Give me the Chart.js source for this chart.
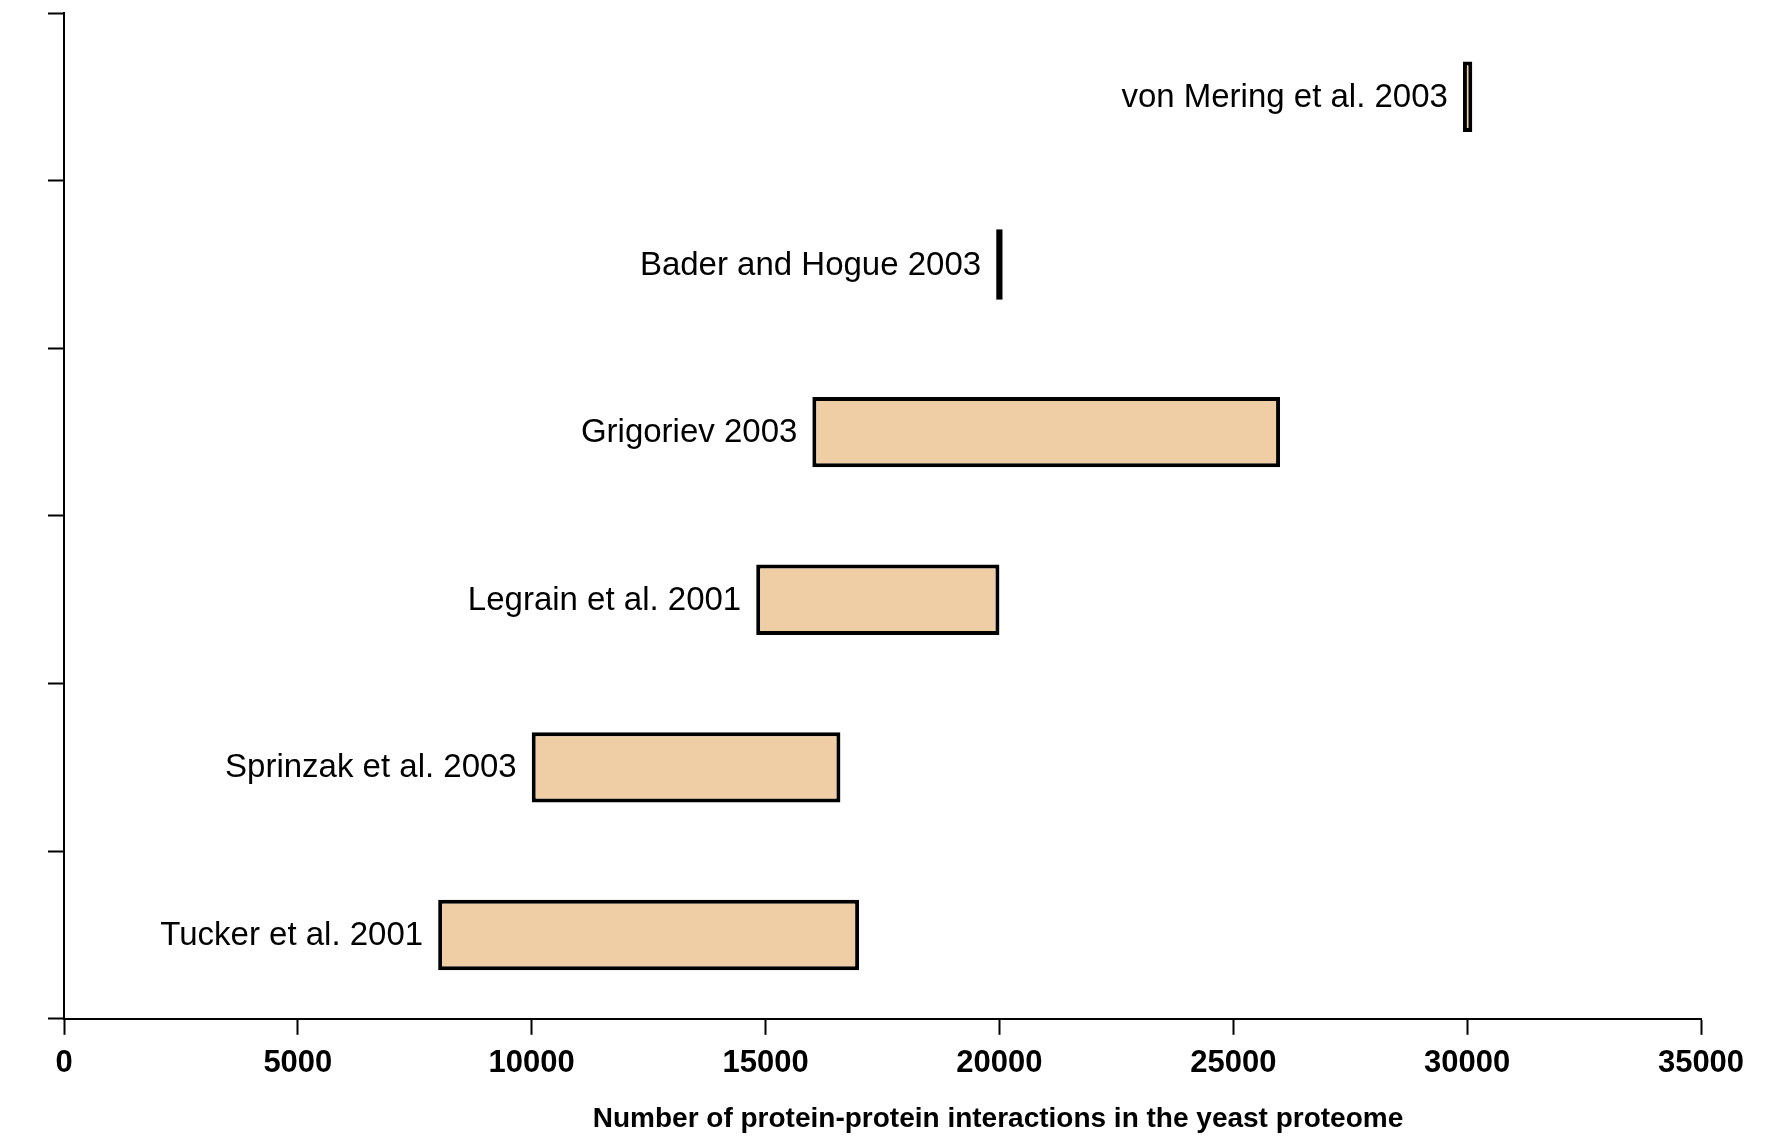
<!DOCTYPE html>
<html>
<head>
    <title>Yeast interactome estimates</title>
    <script src="https://cdn.jsdelivr.net/npm/chart.js"></script>
    <style>
        * { margin: 0; padding: 0; }
        body { background: #ffffff; }
        #chart { display: block; }
    </style>
</head>
<body>
    <canvas id="chart" width="1772" height="1146"></canvas>
    <script>
        // studies, bottom to top
        const studies = ['Tucker et al. 2001', 'Sprinzak et al. 2003', 'Legrain et al. 2001',
                         'Grigoriev 2003', 'Bader and Hogue 2003', 'von Mering et al. 2003'];
        const lowEstimate  = [8000, 10000, 14800, 16000, 19930, 29910];
        const highEstimate = [17000, 16600, 20000, 26000, 20070, 30110];
        const xTicks = [0, 5000, 10000, 15000, 20000, 25000, 30000, 35000];
        const axisTitle = 'Number of protein-protein interactions in the yeast proteome';

        const ranges = studies.map((s, i) => [lowEstimate[i], highEstimate[i]]);

        // study name to the left of each bar
        const barLabels = {
            id: 'barLabels',
            afterDatasetsDraw(chart) {
                const ctx = chart.ctx;
                const meta = chart.getDatasetMeta(0);
                ctx.save();
                ctx.font = '33px "Liberation Sans", Arial, sans-serif';
                ctx.fillStyle = '#000';
                ctx.textAlign = 'right';
                ctx.textBaseline = 'middle';
                meta.data.forEach((bar, i) => {
                    const left = Math.min(bar.x, bar.base);
                    ctx.fillText(studies[i], left - 15, bar.y + 1);
                });
                ctx.restore();
            }
        };

        // x axis title, sits right of centre in the original
        const xTitle = {
            id: 'xTitle',
            afterDraw(chart) {
                const ctx = chart.ctx;
                ctx.save();
                ctx.font = 'bold 28px "Liberation Sans", Arial, sans-serif';
                ctx.fillStyle = '#000';
                ctx.textAlign = 'center';
                ctx.textBaseline = 'middle';
                ctx.fillText(axisTitle, 998, 1119);
                ctx.restore();
            }
        };

        new Chart(document.getElementById('chart'), {
            type: 'bar',
            data: {
                labels: studies,
                datasets: [{
                    data: ranges,
                    backgroundColor: '#EFCEA6',
                    borderColor: '#000',
                    borderWidth: 4,
                    borderSkipped: false,
                    barPercentage: 0.42,
                    categoryPercentage: 1
                }]
            },
            options: {
                indexAxis: 'y',
                responsive: false,
                animation: false,
                layout: { padding: { left: 48, top: 13, right: 71, bottom: 54 } },
                plugins: {
                    legend: { display: false },
                    tooltip: { enabled: false }
                },
                scales: {
                    x: {
                        type: 'linear',
                        min: 0,
                        max: 35000,
                        afterBuildTicks(axis) {
                            axis.ticks = xTicks.map(v => ({ value: v }));
                        },
                        border: { display: true, color: '#000', width: 2 },
                        grid: {
                            drawOnChartArea: false,
                            drawTicks: true,
                            tickLength: 16,
                            tickColor: '#000',
                            tickWidth: 2
                        },
                        ticks: {
                            color: '#000',
                            padding: 10,
                            maxRotation: 0,
                            callback: v => String(v),
                            font: { family: '"Liberation Sans", Arial, sans-serif', size: 31, weight: 'bold' }
                        }
                    },
                    y: {
                        type: 'category',
                        reverse: true,
                        offset: true,
                        border: { display: true, color: '#000', width: 2 },
                        grid: {
                            offset: true,
                            drawOnChartArea: false,
                            drawTicks: true,
                            tickLength: 16,
                            tickColor: '#000',
                            tickWidth: 2
                        },
                        ticks: { display: false }
                    }
                }
            },
            plugins: [barLabels, xTitle]
        });
    </script>
</body>
</html>
